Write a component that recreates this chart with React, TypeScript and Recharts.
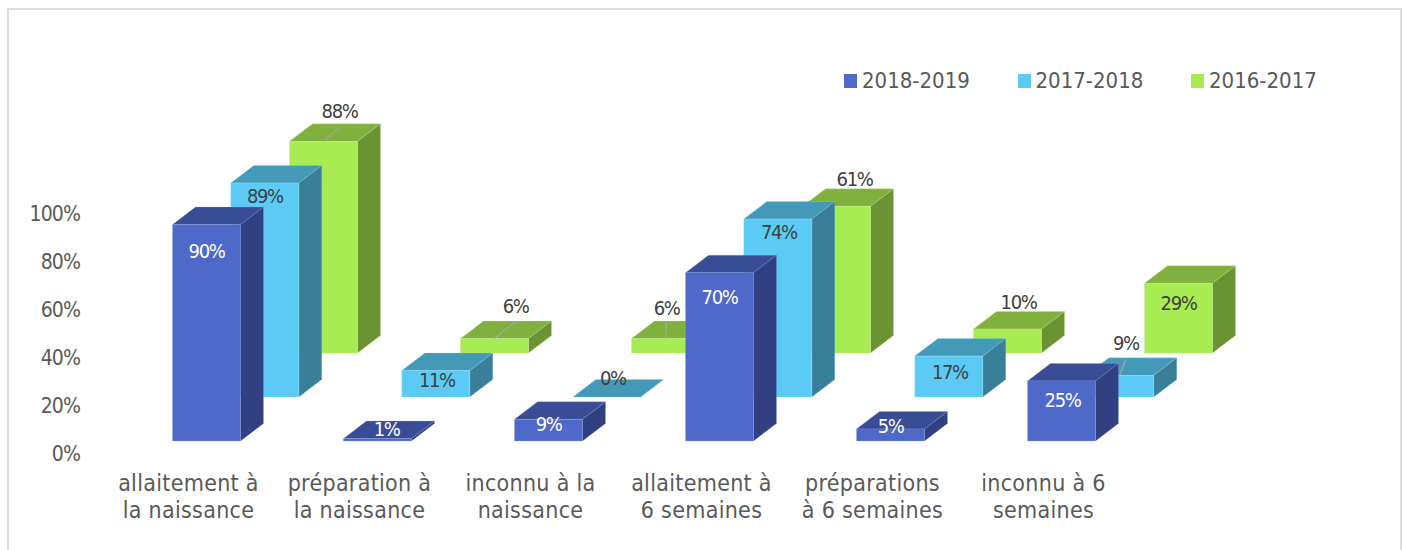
import React from 'react'
import { BarChart, Bar, XAxis, YAxis, Legend, LabelList } from 'recharts'

const categoryLines = [
  ['allaitement à', 'la naissance'],
  ['préparation à', 'la naissance'],
  ['inconnu à la', 'naissance'],
  ['allaitement à', '6 semaines'],
  ['préparations', 'à 6 semaines'],
  ['inconnu à 6', 'semaines'],
]
const categories = categoryLines.map((l) => l.join(' '))
const values1819 = [90, 1, 9, 70, 5, 25]
const values1718 = [89, 11, 0, 74, 17, 9]
const values1617 = [88, 6, 6, 61, 10, 29]
const yTicks = [0, 20, 40, 60, 80, 100]

const data = categories.map((name, i) => ({
  name,
  s1819: values1819[i],
  s1718: values1718[i],
  s1617: values1617[i],
}))

const FONT = '"DejaVu Sans Condensed", "DejaVu Sans", sans-serif'
const DEPTH_X = 23
const DEPTH_Y = 17.5

// each series sits on its own "row" of the fake 3d floor
const series = [
  {
    key: 's1617', name: '2016-2017', shiftX: 134.5, shiftY: 101, labelFill: '#404040',
    front: '#A6EC52', top: '#80B03D', side: '#6A9433', edge: '#C4F090',
    labelOffsets: [[16, -30], [21, -33], [1, -31], [18, -27], [11, -27], [0, 20]],
  },
  {
    key: 's1718', name: '2017-2018', shiftX: 75.8, shiftY: 57, labelFill: '#404040',
    front: '#5BCBF5', top: '#4599B8', side: '#3A7F9A', edge: '#9ADFF8',
    labelOffsets: [[0, 13], [1, 9.5], [6, -19], [1, 13], [1, 16], [6, -32]],
  },
  {
    key: 's1819', name: '2018-2019', shiftX: 17.5, shiftY: 13, labelFill: '#FFFFFF',
    front: '#4E69C9', top: '#394C96', side: '#304080', edge: '#93A4E0',
    labelOffsets: [[0, 26], [9, -10], [0, 5], [0, 24], [0, -3], [1, 19]],
  },
]

type Series = (typeof series)[number]

const poly = (pts: number[][]) => pts.map((p) => p.join(',')).join(' ')

function makeBox(s: Series) {
  return (props: any) => {
    const { x, y, width, height } = props
    const l = x + s.shiftX
    const r = l + width
    const t = y - s.shiftY
    const b = t + height
    return (
      <g stroke={s.edge} strokeWidth={0.6} strokeOpacity={0.45}>
        <polygon points={poly([[l, t], [l + DEPTH_X, t - DEPTH_Y], [r + DEPTH_X, t - DEPTH_Y], [r, t]])} fill={s.top} />
        <polygon points={poly([[r, t], [r + DEPTH_X, t - DEPTH_Y], [r + DEPTH_X, b - DEPTH_Y], [r, b]])} fill={s.side} />
        <rect x={l} y={t} width={width} height={height} fill={s.front} />
      </g>
    )
  }
}

function makeLabel(s: Series) {
  return (props: any) => {
    const { x, y, width, value, index } = props
    const [dx, dy] = s.labelOffsets[index]
    const cx = x + s.shiftX + width / 2
    const top = y - s.shiftY
    const lx = cx + dx
    const ly = top + dy
    return (
      <g>
        {dy <= -29 && <line x1={cx} y1={top} x2={lx} y2={ly + 16} stroke="#A6A6A6" strokeWidth={1.2} />}
        <text x={lx} y={ly} textAnchor="middle" dominantBaseline="central" fontFamily={FONT} fontSize={20} letterSpacing={-1.4} fill={s.labelFill}>
          {value}%
        </text>
      </g>
    )
  }
}

function CategoryTick(props: any) {
  const { x, y, index } = props
  return (
    <text x={x} textAnchor="middle" fontFamily={FONT} fontSize={23} letterSpacing={0.3} fill="#595959">
      {categoryLines[index].map((line, i) => (
        <tspan key={i} x={x} y={y + 21 + i * 27} dominantBaseline="central">{line}</tspan>
      ))}
    </text>
  )
}

function ChartLegend(props: any) {
  const items = [...(props.payload || [])].reverse()
  return (
    <div style={{ display: 'flex', fontFamily: FONT, fontSize: 22, color: '#595959', lineHeight: '26px' }}>
      {items.map((it: any) => (
        <div key={it.value} style={{ display: 'flex', alignItems: 'center', width: 173.5 }}>
          <span style={{ width: 13, height: 14, background: it.color, marginRight: 5 }} />
          {it.value}
        </div>
      ))}
    </div>
  )
}

export default function App() {
  return (
    <div style={{ position: 'absolute', left: 0, top: 0, width: 1403, height: 550, background: '#fff' }}>
      <div style={{ position: 'absolute', left: 7, top: 8, width: 1395, height: 542, boxSizing: 'border-box', border: '2px solid #DDDDDD', borderBottom: 'none' }} />
      <div style={{ position: 'absolute', left: 0, top: 0 }}>
        <BarChart
          width={1403}
          height={550}
          data={data}
          barSize={68}
          barGap={-68}
          margin={{ top: 213.5, right: 274, bottom: 0, left: 3 }}
        >
          <XAxis dataKey="name" height={70} axisLine={false} tickLine={false} interval={0} tick={<CategoryTick />} />
          <YAxis
            width={100}
            domain={[0, 100]}
            ticks={yTicks}
            axisLine={false}
            tickLine={false}
            tickMargin={17}
            tickFormatter={(v) => `${v}%`}
            tick={{ fontFamily: FONT, fontSize: 21, fill: '#595959', letterSpacing: -0.9 }}
          />
          <Legend
            content={<ChartLegend />}
            wrapperStyle={{ position: 'absolute', left: 844, top: 68, width: 540, height: 26, bottom: 'auto' }}
          />
          {series.map((s) => (
            <Bar
              key={s.key}
              dataKey={s.key}
              name={s.name}
              fill={s.front}
              shape={makeBox(s)}
              isAnimationActive={false}
            >
              <LabelList dataKey={s.key} content={makeLabel(s)} />
            </Bar>
          ))}
        </BarChart>
      </div>
    </div>
  )
}
